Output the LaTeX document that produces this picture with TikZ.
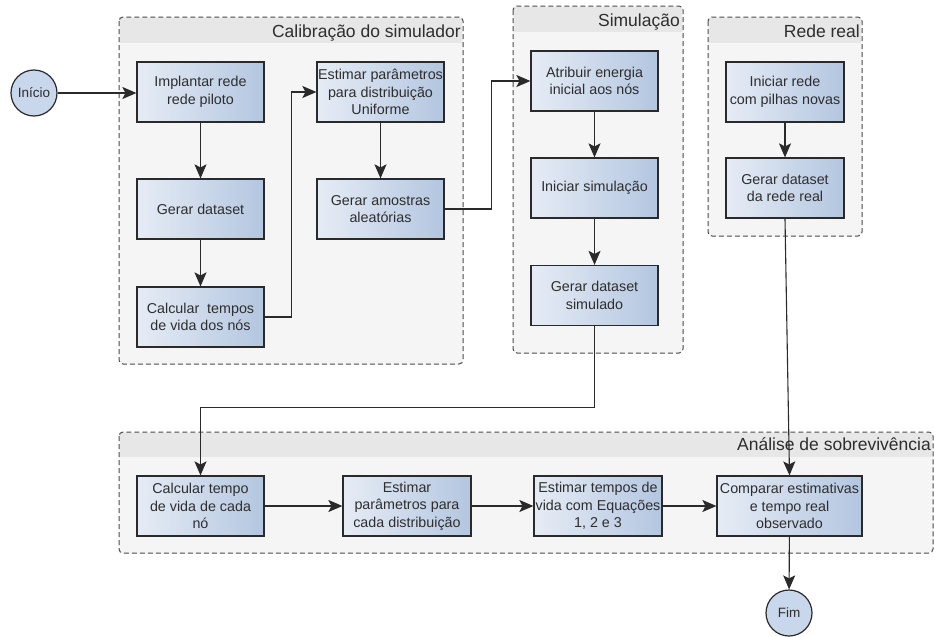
\documentclass[tikz,border=0pt]{standalone}
\usepackage{fontspec}
\setmainfont{Liberation Sans}
\usetikzlibrary{arrows.meta}
\definecolor{boxl}{HTML}{E6ECF5}
\definecolor{boxd}{HTML}{B3C6E0}
\definecolor{grpfill}{HTML}{F5F5F5}
\definecolor{grphead}{HTML}{E7E7E7}
\definecolor{linec}{HTML}{2A2A2A}
\definecolor{circfill}{HTML}{C8D7EB}
\definecolor{textc}{HTML}{2E2E2E}
\begin{document}
\begin{tikzpicture}[x=1pt,y=-1pt,
	passo/.style={draw=linec,line width=1.2pt,left color=boxl,right color=boxd,minimum width=127pt,minimum height=60pt,inner sep=1pt,align=center,text=textc,font=\fontsize{14.3}{17.5}\selectfont},
	term/.style={circle,draw=linec,line width=1.2pt,fill=circfill,minimum size=46pt,inner sep=0pt,text=textc,font=\fontsize{13.5}{15}\selectfont},
	grupo/.style={draw=linec!85,line width=1pt,dash pattern=on 5pt off 3pt,rounded corners=4pt},
	titulo/.style={anchor=base east,inner sep=0pt,text=textc,font=\fontsize{17.5}{20}\selectfont},
	seta/.style={draw=linec,line width=1.1pt,-{Stealth[length=14pt,width=12pt,inset=3pt]}}]
	\useasboundingbox (0,0) rectangle (935,637);
	\fill[white] (0,0) rectangle (935,637);
	
	\fill[grpfill,rounded corners=4pt] (119,17) rectangle (463,364);
	\fill[grphead] (120,18) rectangle (462,43);
	\draw[grupo] (119,17) rectangle (463,364);
	\fill[grpfill,rounded corners=4pt] (513,6) rectangle (683,353);
	\fill[grphead] (514,7) rectangle (682,32);
	\draw[grupo] (513,6) rectangle (683,353);
	\fill[grpfill,rounded corners=4pt] (708,17) rectangle (862,236);
	\fill[grphead] (709,18) rectangle (861,43);
	\draw[grupo] (708,17) rectangle (862,236);
	\fill[grpfill,rounded corners=4pt] (119,432) rectangle (933,553);
	\fill[grphead] (120,433) rectangle (932,457);
	\draw[grupo] (119,432) rectangle (933,553);
	
	\node[titulo] (tcal) at (461,37) {Calibração do simulador};
	\node[titulo] (tsim) at (680,27) {Simulação};
	\node[titulo] (treal) at (860,37) {Rede real};
	\node[titulo] (tanal) at (931,450) {Análise de sobrevivência};
	
	\node[term] (inicio) at (34,93) {Início};
	\node[passo] (implantar) at (200.5,92) {Implantar rede\\rede piloto};
	\node[passo] (dataset) at (200.5,209) {Gerar dataset};
	\node[passo] (tempos) at (200.5,317) {Calcular \ tempos\\de vida dos nós};
	\node[passo] (uniforme) at (380.5,92) {Estimar parâmetros\\para distribuição\\Uniforme};
	\node[passo] (amostras) at (380.5,209) {Gerar amostras\\aleatórias};
	
	\node[passo] (energia) at (594.5,81) {Atribuir energia\\inicial aos nós};
	\node[passo] (simul) at (594.5,188) {Iniciar simulação};
	\node[passo] (simulado) at (594.5,295.5) {Gerar dataset\\simulado};
	
	\node[passo,minimum width=118pt] (pilhas) at (785,92) {Iniciar rede\\com pilhas novas};
	\node[passo,minimum width=118pt] (datreal) at (785,188) {Gerar dataset\\da rede real};
	
	\node[passo] (vida) at (200.5,506) {Calcular tempo\\de vida de cada\\nó};
	\node[passo,minimum width=128pt] (distrib) at (407,506) {Estimar\\parâmetros para\\cada distribuição};
	\node[passo,minimum width=128pt] (equacoes) at (598,506) {Estimar tempos de\\vida com Equações\\1, 2 e 3};
	\node[passo,minimum width=145pt] (comparar) at (789.5,506) {Comparar estimativas\\e tempo real\\observado};
	\node[term] (fim) at (789,613) {Fim};
	
	\draw[seta] (inicio) -- (implantar.west |- inicio);
	\draw[seta] (implantar) -- (dataset);
	\draw[seta] (dataset) -- (tempos);
	\draw[seta] (tempos.east) -- ++(27,0) |- (uniforme.west);
	\draw[seta] (uniforme) -- (amostras);
	\draw[seta] (amostras.east) -- ++(47,0) |- (energia.west);
	\draw[seta] (energia) -- (simul);
	\draw[seta] (simul) -- (simulado);
	\draw[seta] (simulado.south) -- ++(0,81) -| (vida.north);
	\draw[seta] (pilhas) -- (datreal);
	\draw[seta] (datreal.south) -- (comparar.north);
	\draw[seta] (vida) -- (distrib);
	\draw[seta] (distrib) -- (equacoes);
	\draw[seta] (equacoes) -- (comparar);
	\draw[seta] (comparar) -- (fim);
\end{tikzpicture}
\end{document}
